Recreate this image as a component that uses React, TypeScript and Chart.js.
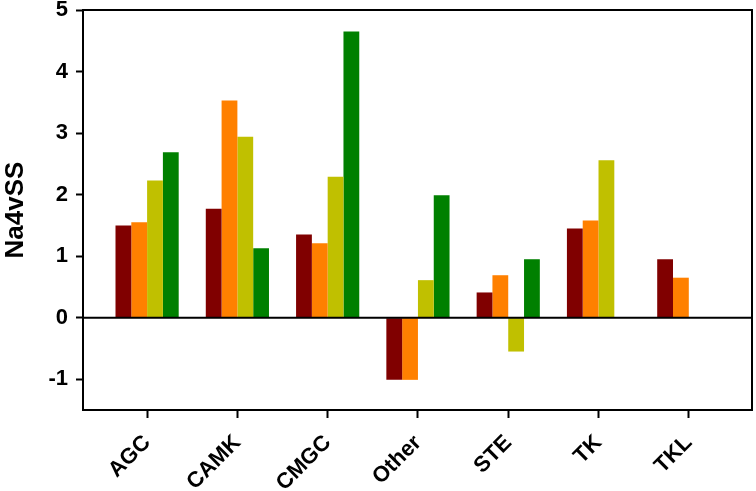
import React, { useEffect, useRef } from "react";
import { Chart, registerables } from "chart.js";

Chart.register(...registerables);

const categories = ["AGC", "CAMK", "CMGC", "Other", "STE", "TK", "TKL"];
const series1 = [1.5, 1.77, 1.35, -1.01, 0.41, 1.45, 0.95];
const series2 = [1.55, 3.53, 1.21, -1.01, 0.69, 1.58, 0.65];
const series3 = [2.23, 2.94, 2.29, 0.61, -0.55, 2.56, null];
const series4 = [2.69, 1.13, 4.65, 1.99, 0.95, null, null];
const seriesColors = ["#800000", "#FF8000", "#C0C000", "#008000"];
const yTicks = [-1, 0, 1, 2, 3, 4, 5];
const yTitle = "Na4vSS";

const FONT = "'Liberation Sans', Arial, sans-serif";

export default function App() {
  const ref = useRef<HTMLCanvasElement | null>(null);

  useEffect(() => {
    document.body.style.margin = "0";
    const canvas = ref.current;
    if (!canvas) return;

    const all = [series1, series2, series3, series4];
    const datasets = all.map((s, k) => ({
      label: "s" + (k + 1),
      data: s.map((v, i) => ({ x: i, y: v })),
      backgroundColor: seriesColors[k],
      borderWidth: 0,
      categoryPercentage: 0.7,
      barPercentage: 1.0,
    }));

    const framePlugin = {
      id: "frame",
      afterDatasetsDraw(chart: any) {
        const { ctx, chartArea, scales } = chart;
        const y0 = scales.y.getPixelForValue(0);
        ctx.save();
        ctx.strokeStyle = "#000";
        ctx.lineWidth = 2;
        ctx.beginPath();
        ctx.moveTo(chartArea.left, y0);
        ctx.lineTo(chartArea.right, y0);
        ctx.moveTo(chartArea.left, chartArea.top);
        ctx.lineTo(chartArea.right, chartArea.top);
        ctx.lineTo(chartArea.right, chartArea.bottom);
        ctx.stroke();
        ctx.restore();
      },
    };

    const chart = new Chart(canvas, {
      type: "bar",
      data: { datasets: datasets as any },
      options: {
        animation: false,
        responsive: false,
        maintainAspectRatio: false,
        layout: { padding: { top: 10, right: 4, left: 0, bottom: 0 } },
        plugins: {
          legend: { display: false },
          tooltip: { enabled: false },
        },
        scales: {
          x: {
            type: "linear",
            min: -0.71,
            max: 6.7,
            offset: false,
            afterBuildTicks: (scale: any) => {
              scale.ticks = categories.map((_, i) => ({ value: i }));
            },
            afterFit: (scale: any) => {
              scale.height = 81;
              scale.paddingLeft = 0;
              scale.paddingRight = 0;
            },
            ticks: {
              autoSkip: false,
              minRotation: 45,
              maxRotation: 45,
              padding: 12,
              color: "#000",
              font: { family: FONT, size: 22, weight: "bold" },
              callback: (v: any) => categories[Math.round(Number(v))] ?? "",
            },
            grid: {
              offset: false,
              drawOnChartArea: false,
              drawTicks: true,
              tickLength: 8,
              tickWidth: 2,
              tickColor: "#000",
            },
            border: { display: true, color: "#000", width: 2 },
          },
          y: {
            type: "linear",
            min: -1.5,
            max: 5,
            afterBuildTicks: (scale: any) => {
              scale.ticks = yTicks.map((v) => ({ value: v }));
            },
            afterFit: (scale: any) => {
              scale.width = 83;
              scale.paddingTop = 0;
              scale.paddingBottom = 0;
            },
            ticks: {
              padding: 8,
              color: "#000",
              font: { family: FONT, size: 22, weight: "bold" },
            },
            grid: {
              offset: false,
              drawOnChartArea: false,
              drawTicks: true,
              tickLength: 7,
              tickWidth: 2,
              tickColor: "#000",
            },
            border: { display: true, color: "#000", width: 2 },
            title: {
              display: true,
              text: yTitle,
              color: "#000",
              font: { family: FONT, size: 26, weight: "bold" },
              padding: { top: 0, bottom: 0 },
            },
          },
        },
      },
      plugins: [framePlugin],
    });

    return () => chart.destroy();
  }, []);

  return (
    <div style={{ width: 756, height: 491 }}>
      <canvas ref={ref} width={756} height={491} style={{ display: "block" }} />
    </div>
  );
}
